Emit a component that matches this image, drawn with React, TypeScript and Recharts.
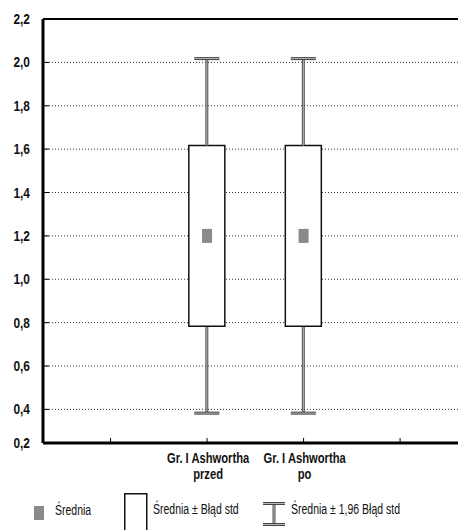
import React from 'react';
import { ComposedChart, Bar, Scatter, XAxis, YAxis, CartesianGrid, ReferenceLine } from 'recharts';

const FONT = "'Liberation Sans', Arial, sans-serif";

// groups and their statistics
const groups = ['Gr. I Ashwortha\nprzed', 'Gr. I Ashwortha\npo'];
const groupPos = [2, 3];
const means = [1.2, 1.2];
const stdErrors = [0.417, 0.417];

const xTicks = [1, 2, 3, 4];
const AXIS_MIN = 0.245;
const yTicks = [AXIS_MIN, 0.4, 0.6, 0.8, 1.0, 1.2, 1.4, 1.6, 1.8, 2.0, 2.2];

// stacked segments: hidden base, lower whisker, box (mean ± SE), upper whisker
const rows = groups.map((g, i) => {
  const m = means[i];
  const se = stdErrors[i];
  return {
    x: groupPos[i],
    name: g,
    mean: m,
    base: m - 1.96 * se,
    lowW: 0.96 * se,
    box: 2 * se,
    highW: 0.96 * se,
  };
});

const fmtY = (v: number) => (v === AXIS_MIN ? 0.2 : v).toFixed(1).replace('.', ',');

const XTick = ({ x, y, payload }: any) => {
  const idx = groupPos.indexOf(payload.value);
  if (idx < 0) return null;
  const [l1, l2] = groups[idx].split('\n');
  return (
    <g transform={`translate(${x + 1},${y}) scale(0.8,1)`}>
      <text x={0} y={0} textAnchor="middle" fontFamily={FONT} fontWeight="bold" fontSize={14} fill="#111">
        <tspan x={0} dy={10}>{l1}</tspan>
        <tspan x={0} dy={16}>{l2}</tspan>
      </text>
    </g>
  );
};

const YTick = ({ x, y, payload }: any) => (
  <g transform={`translate(${x},${y}) scale(0.85,1)`}>
    <text x={0} y={0} dy="0.36em" textAnchor="end" fontFamily={FONT} fontWeight="bold" fontSize={14} fill="#111">
      {fmtY(payload.value)}
    </text>
  </g>
);

const Whisker = (cap: 'top' | 'bottom') => (props: any) => {
  const { x, y, width, height } = props;
  const cx = x + width / 2;
  const cy = cap === 'top' ? y : y + height;
  return (
    <g>
      <line x1={cx} x2={cx} y1={y} y2={y + height} stroke="#555" strokeWidth={3} />
      <line x1={cx} x2={cx} y1={y} y2={y + height} stroke="#b8b8b8" strokeWidth={1} />
      <line x1={cx - 12.5} x2={cx + 12.5} y1={cy} y2={cy} stroke="#444" strokeWidth={3} />
      <line x1={cx - 12.5} x2={cx + 12.5} y1={cy} y2={cy} stroke="#b8b8b8" strokeWidth={1} />
    </g>
  );
};
const UpperWhisker = Whisker('top');
const LowerWhisker = Whisker('bottom');

const MeanMarker = ({ cx, cy }: any) => (
  <rect x={cx - 5} y={cy - 7} width={10} height={14} fill="#8a8a8a" />
);

const LegendLabel = ({ x, y, children }: any) => (
  <g transform={`translate(${x},${y}) scale(0.7,1)`}>
    <text x={0} y={0} dy="0.36em" fontFamily={FONT} fontSize={15} fill="#111">{children}</text>
  </g>
);

export default function App() {
  return (
    <div style={{ position: 'absolute', left: 0, top: 0, width: 458, height: 530, background: '#fff' }}>
      <ComposedChart width={458} height={530} data={rows} margin={{ top: 19, right: 0, bottom: 0, left: 0 }}>
        <CartesianGrid horizontal vertical={false} stroke="#333" strokeDasharray="1 2" />
        <XAxis
          type="number"
          dataKey="x"
          domain={[0.3, 4.6]}
          ticks={xTicks}
          interval={0}
          height={87}
          tickSize={-5}
          tickMargin={15}
          tick={<XTick />}
          tickLine={{ stroke: '#000', strokeWidth: 1 }}
          axisLine={{ stroke: '#000', strokeWidth: 3 }}
          allowDataOverflow
        />
        <YAxis
          type="number"
          domain={[AXIS_MIN, 2.2]}
          ticks={yTicks}
          interval={0}
          width={43}
          tickSize={-6}
          tickMargin={19}
          tick={<YTick />}
          tickLine={{ stroke: '#000', strokeWidth: 1 }}
          axisLine={{ stroke: '#000', strokeWidth: 3 }}
          allowDataOverflow
        />
        <ReferenceLine y={2.2} stroke="#000" strokeWidth={2} />
        <Bar dataKey="base" stackId="s" barSize={36} fill="none" stroke="none" isAnimationActive={false} />
        <Bar dataKey="lowW" stackId="s" barSize={36} shape={LowerWhisker} isAnimationActive={false} />
        <Bar dataKey="box" stackId="s" barSize={36} fill="#fff" stroke="#111" strokeWidth={1.5} isAnimationActive={false} />
        <Bar dataKey="highW" stackId="s" barSize={36} shape={UpperWhisker} isAnimationActive={false} />
        <Scatter dataKey="mean" shape={<MeanMarker />} isAnimationActive={false} />
      </ComposedChart>

      {/* legend */}
      <svg style={{ position: 'absolute', left: 0, top: 488 }} width={458} height={42}>
        <rect x={34} y={18} width={10} height={14} fill="#8a8a8a" />
        <LegendLabel x={55} y={22}>Średnia</LegendLabel>
        <rect x={124.75} y={5.75} width={22} height={40} fill="#fff" stroke="#111" strokeWidth={1.5} />
        <LegendLabel x={153} y={21}>Średnia ± Błąd std</LegendLabel>
        <line x1={274} x2={274} y1={15.5} y2={36.5} stroke="#555" strokeWidth={3} />
        <line x1={274} x2={274} y1={15.5} y2={36.5} stroke="#b8b8b8" strokeWidth={1} />
        <line x1={263} x2={285} y1={15.5} y2={15.5} stroke="#444" strokeWidth={3} />
        <line x1={263} x2={285} y1={36.5} y2={36.5} stroke="#444" strokeWidth={3} />
        <line x1={263} x2={285} y1={15.5} y2={15.5} stroke="#b8b8b8" strokeWidth={1} />
        <line x1={263} x2={285} y1={36.5} y2={36.5} stroke="#b8b8b8" strokeWidth={1} />
        <LegendLabel x={291} y={21}>Średnia ± 1,96 Błąd std</LegendLabel>
      </svg>
    </div>
  );
}
